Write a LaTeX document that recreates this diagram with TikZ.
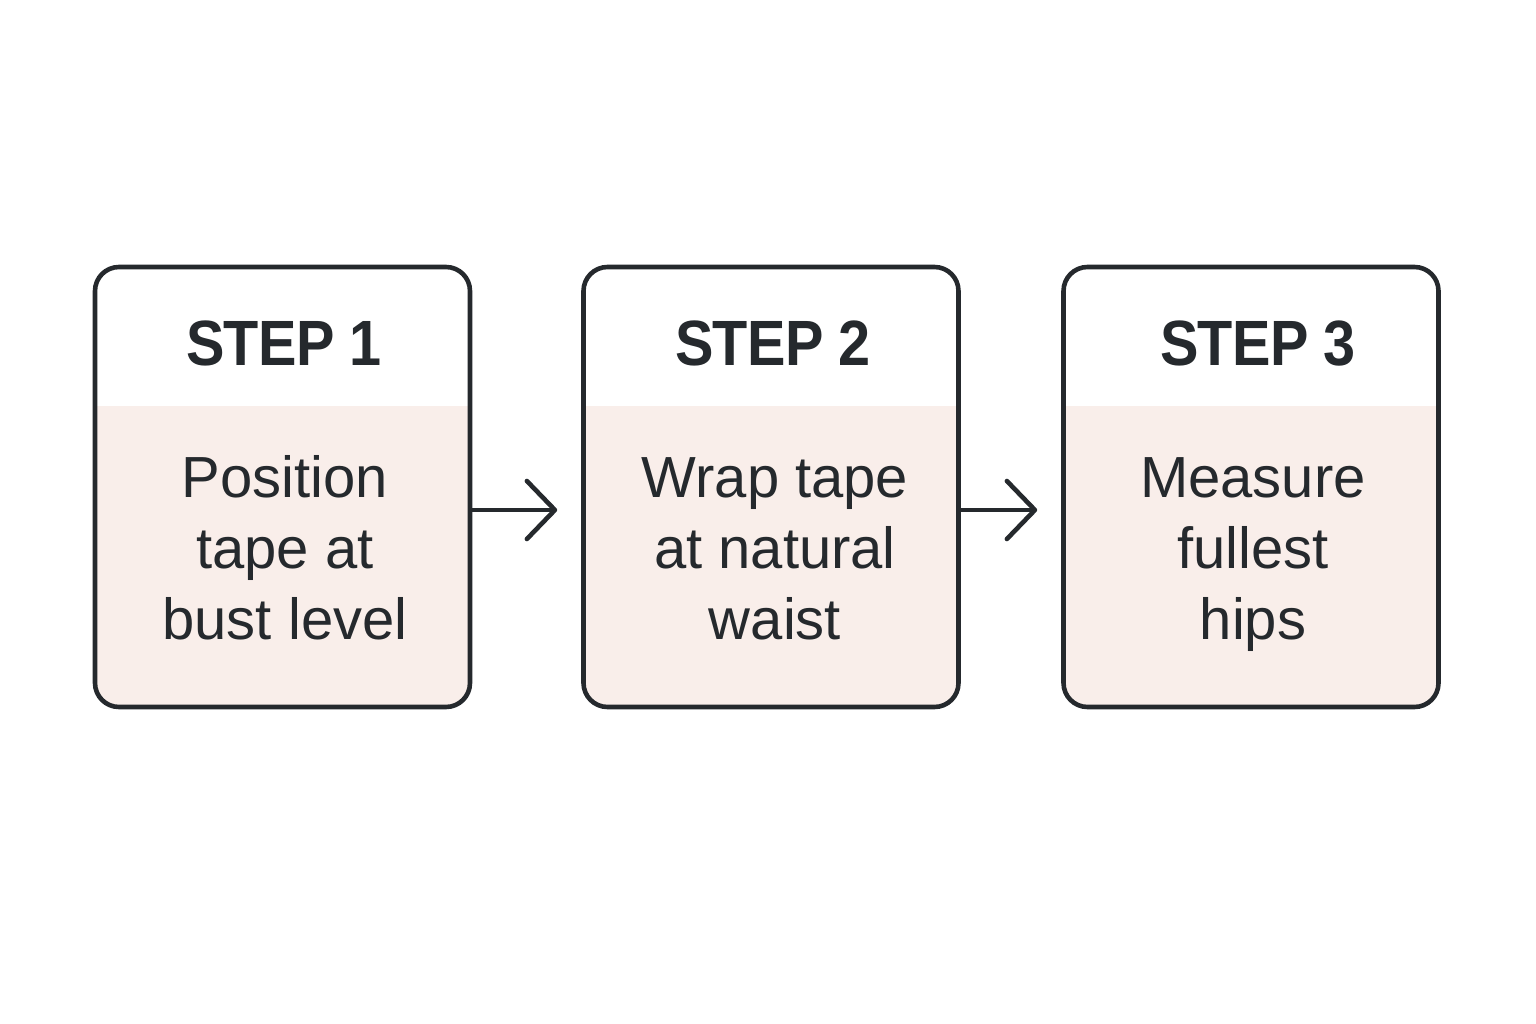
\documentclass[tikz,border=0pt]{standalone}
\usepackage{fontspec}
\setmainfont{Liberation Sans}
\usetikzlibrary{arrows.meta}
\definecolor{ink}{HTML}{25292D}
\definecolor{pinkbg}{HTML}{F9EEEA}
\tikzset{
  stepbox/.style={draw=ink, line width=4.6pt, rounded corners=24pt, fill=white,
    minimum width=375pt, minimum height=440pt, inner sep=0pt,
    path picture={\fill[pinkbg, sharp corners] ([yshift=-139pt]path picture bounding box.north west) rectangle (path picture bounding box.south east);}},
  steptitle/.style={text=ink, font=\fontsize{64}{70}\selectfont\bfseries\addfontfeature{FakeStretch=0.9,LetterSpace=-1}, anchor=base, inner sep=0pt},
  stepbody/.style={text=ink, font=\fontsize{58}{71}\selectfont, align=center, inner sep=0pt},
  flow/.style={draw=ink, line width=4.6pt, line cap=round, line join=round,
    -{Straight Barb[length=28pt, width=58pt, line cap=round, line join=round]}, shorten >=24pt}
}
\begin{document}
\begin{tikzpicture}[x=1pt, y=-1pt]
\useasboundingbox (0,0) rectangle (1536,1024);
\node[stepbox] (b1) at (282.5,487) {};
\node[stepbox] (b2) at (771,487) {};
\node[stepbox] (b3) at (1251,487) {};
\node[steptitle] (t1) at (284,365) {STEP 1};
\node[steptitle] (t2) at (773,365) {STEP 2};
\node[steptitle] (t3) at (1258,365) {STEP 3};
\node[stepbody] (d1) at (285,554) {\strut Position\\\strut tape at\\\strut bust level};
\node[stepbody] (d2) at (775,554) {\strut Wrap tape\\\strut at natural\\\strut waist};
\node[stepbody] (d3) at (1253,554) {\strut Measure\\\strut fullest\\\strut hips};
\draw[flow] (b1.east |- 0,510) -- (b2.west |- 0,510);
\draw[flow] (b2.east |- 0,510) -- (b3.west |- 0,510);
\end{tikzpicture}
\end{document}
